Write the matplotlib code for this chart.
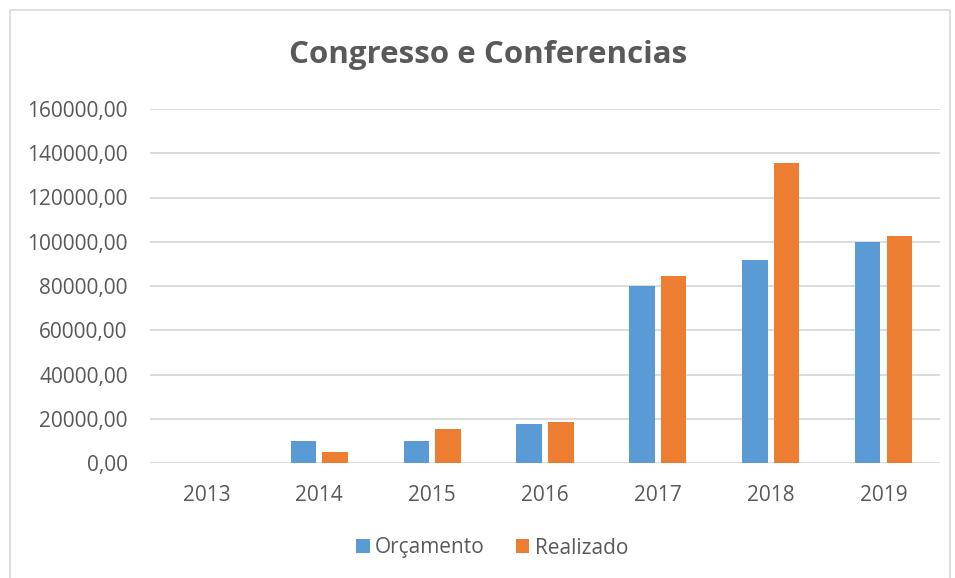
import numpy as np
import matplotlib
matplotlib.use("Agg")
import matplotlib.pyplot as plt
from matplotlib.patches import Rectangle

anos = ["2013", "2014", "2015", "2016", "2017", "2018", "2019"]
orcamento = [0, 10000, 10000, 17800, 80000, 91700, 100000]
realizado = [0, 4800, 15500, 18400, 84500, 135500, 102600]
yticks = [0, 20000, 40000, 60000, 80000, 100000, 120000, 140000, 160000]

plt.rcParams['font.family'] = ['Open Sans', 'DejaVu Sans']
cinza = "#595959"

fig = plt.figure(figsize=(9.55, 5.78), dpi=100)
ax = fig.add_axes([150/955, 1-463/578, 790/955, 354/578])

x = np.arange(len(anos))
w = 0.226
off = (w + 0.055) / 2
ax.bar(x - off, orcamento, w, color="#5B9BD5", label="Orçamento", zorder=3)
ax.bar(x + off, realizado, w, color="#ED7D31", label="Realizado", zorder=3)

ax.set_xlim(-0.5, len(anos) - 0.5)
ax.set_ylim(0, 160000)
ax.set_yticks(yticks)
ax.set_yticklabels([f"{v},00" for v in yticks])
ax.set_xticks(x)
ax.set_xticklabels(anos)
ax.tick_params(axis="both", length=0, labelsize=15, labelcolor=cinza)
ax.tick_params(axis="y", pad=16)
ax.tick_params(axis="x", pad=16)
ax.grid(axis="y", color="#D9D9D9", linewidth=1.3, zorder=0)
for s in ax.spines.values():
    s.set_visible(False)

fig.text(488/955, 1-55/578, "Congresso e Conferencias", ha="center", va="center",
         fontsize=22.5, fontweight="bold", color=cinza)

fig.legend(loc="center", bbox_to_anchor=(492/955, 1-548/578), ncol=2, frameon=False,
           fontsize=15, labelcolor=cinza, handlelength=0.65, handleheight=0.65,
           handletextpad=0.25, columnspacing=1.5)

fig.patches.append(Rectangle((10/955, -0.01), 940/955, 1-10/578 + 0.01, transform=fig.transFigure,
                             fill=False, edgecolor="#D9D9D9", linewidth=1.2))

fig.savefig("out.png", dpi=100)
